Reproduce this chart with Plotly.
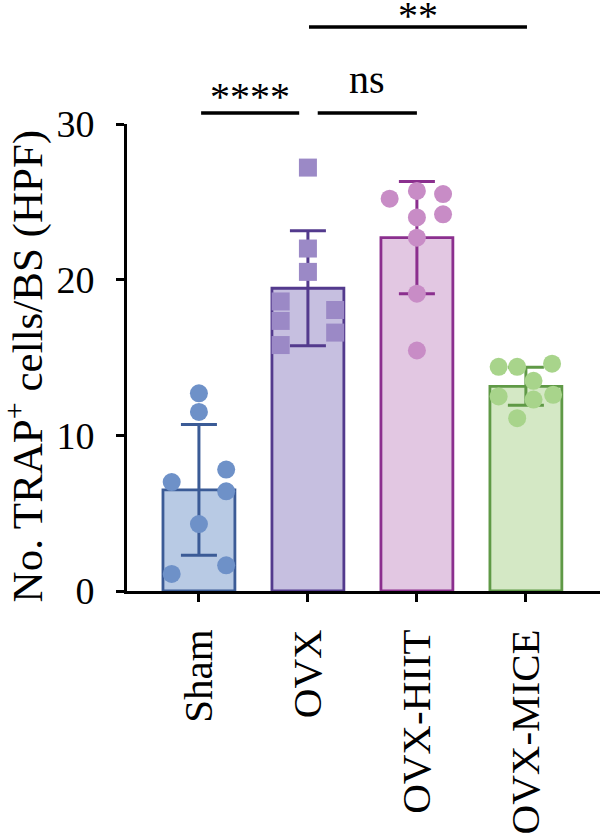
import plotly.graph_objects as go

categories = ["Sham", "OVX", "OVX-HIIT", "OVX-MICE"]
means = [6.5, 19.45, 22.7, 13.15]
sds = [4.2, 3.7, 3.6, 1.22]

sham_vals = [12.7, 11.5, 7.0, 7.8, 6.4, 4.3, 1.1, 1.65]
ovx_vals = [27.2, 22.0, 20.5, 18.6, 17.35, 15.8, 18.05, 16.6]
hiit_vals = [25.2, 25.7, 25.5, 24.0, 24.2, 22.7, 19.1, 15.45]
mice_vals = [14.4, 14.4, 14.6, 13.5, 12.5, 12.6, 12.3, 11.1]

comparisons = [(0, 1, "****"), (1, 2, "ns"), (1, 3, "**")]

# layout-only (jitter of points within the column)
sham_off = [0, 0, -0.25, 0.25, 0.25, 0, -0.25, 0.25]
ovx_off = [0, 0, 0, -0.25, -0.25, -0.25, 0.25, 0.25]
hiit_off = [-0.25, 0, 0.24, 0, 0.24, 0, 0, 0]
mice_off = [-0.25, -0.08, 0.24, 0.07, -0.25, 0.25, 0.07, -0.08]

fills = ["#b8cae4", "#c6bfe0", "#e2c7e2", "#d4e8c5"]
edges = ["#3b5b96", "#533a8d", "#8b2f8e", "#5f9946"]
dots = ["#6e91c8", "#9b89c6", "#c88cc6", "#a8d48b"]
symbols = ["circle", "square", "circle", "circle"]

FONT = "Liberation Serif"
XR = [-0.66, 3.68]
YR = [0, 30]

fig = go.Figure()
xs = list(range(len(categories)))
fig.add_trace(go.Bar(
    x=xs, y=means, width=0.66,
    marker=dict(color=fills, line=dict(color=edges, width=2.8)),
    showlegend=False, hoverinfo="skip",
))
for i in xs:
    fig.add_trace(go.Scatter(
        x=[i], y=[means[i]], mode="markers", marker=dict(size=1, opacity=0),
        error_y=dict(type="data", array=[sds[i]], visible=True, thickness=3,
                     width=18, color=edges[i]),
        showlegend=False, hoverinfo="skip"))

groups = [(sham_vals, sham_off), (ovx_vals, ovx_off), (hiit_vals, hiit_off), (mice_vals, mice_off)]
for i, (vals, offs) in enumerate(groups):
    fig.add_trace(go.Scatter(
        x=[i + o for o in offs], y=vals, mode="markers",
        marker=dict(size=18, color=dots[i], symbol=symbols[i], line=dict(width=0)),
        showlegend=False, cliponaxis=False, hoverinfo="skip"))

L, R, T, B = 127, 0, 124, 238
W, H = 600, 834
pw, ph = W - L - R, H - T - B

def xp(x):
    return (x - XR[0]) / (XR[1] - XR[0])

def yp_px(py):
    return (H - B - py) / ph

line_y = [113, 113, 26]
trims = [(0.02, -0.08), (0.09, 0.0), (0.01, 0.01)]
bases = {"ns": 95, "****": 112, "**": 30}
shapes = []
annotations = []
for k, (a, b, lab) in enumerate(comparisons):
    x0 = a + trims[k][0]
    x1 = b + trims[k][1]
    shapes.append(dict(type="line", xref="paper", yref="paper",
                       x0=xp(x0), x1=xp(x1), y0=yp_px(line_y[k]), y1=yp_px(line_y[k]),
                       line=dict(color="black", width=3.5)))
    annotations.append(dict(text=lab, xref="paper", yref="paper",
                            x=xp((x0 + x1) / 2), y=yp_px(bases[lab] + 9), xanchor="center",
                            yanchor="bottom", showarrow=False,
                            font=dict(family=FONT, size=40, color="black")))

annotations.append(dict(text="No. TRAP<sup>+</sup> cells/BS (HPF)", textangle=-90,
                        xref="paper", yref="paper", x=(24 - L) / pw, y=yp_px(369),
                        xanchor="center", yanchor="middle", showarrow=False,
                        font=dict(family=FONT, size=43, color="black")))

fig.update_layout(
    width=W, height=H, margin=dict(l=L, r=R, t=T, b=B, pad=0),
    plot_bgcolor="white", paper_bgcolor="white",
    shapes=shapes, annotations=annotations,
    xaxis=dict(range=XR, tickmode="array", tickvals=xs, ticktext=categories,
               tickangle=-90, showline=True, linecolor="black", linewidth=3,
               ticks="outside", ticklen=8, tickwidth=2.5, tickcolor="black",
               showgrid=False, zeroline=False, ticklabelstandoff=11,
               tickfont=dict(family=FONT, size=41, color="black")),
    yaxis=dict(range=YR, tickvals=[0, 10, 20, 30], showline=True, linecolor="black",
               linewidth=3, ticks="outside", ticklen=8, tickwidth=2.5, tickcolor="black",
               showgrid=False, zeroline=False, ticklabelstandoff=14,
               tickfont=dict(family=FONT, size=38, color="black")),
)

fig.write_html("out.html")
